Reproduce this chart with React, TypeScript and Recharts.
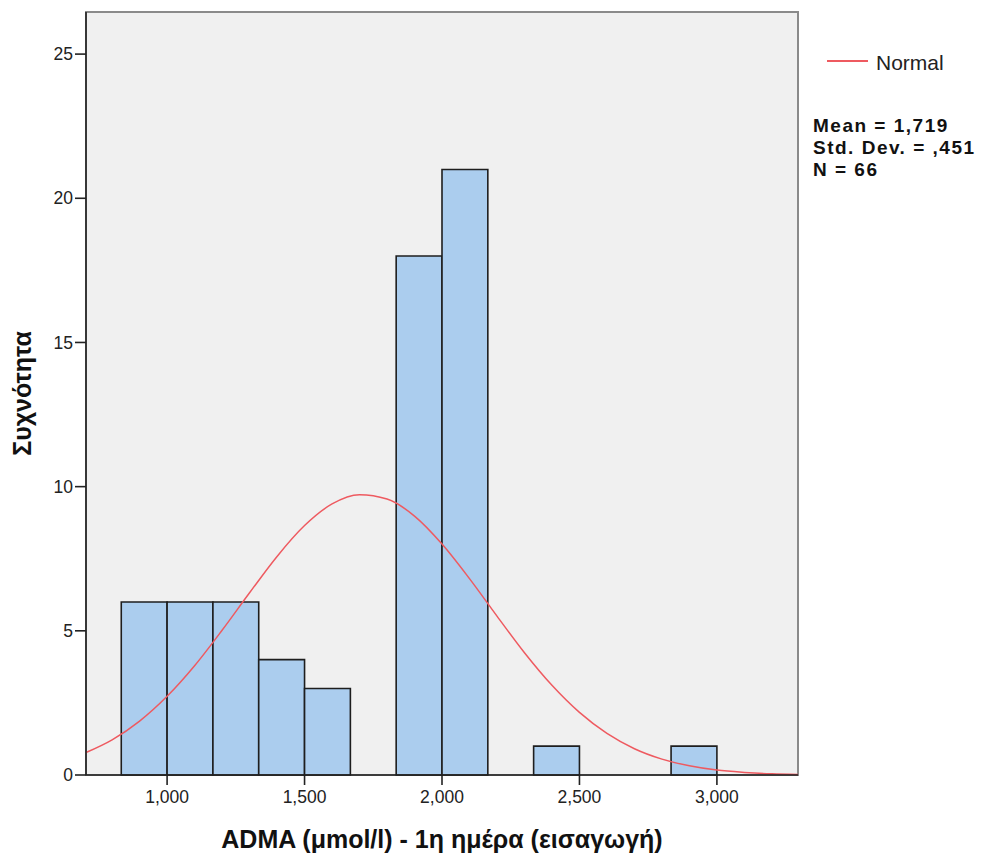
import {
  ComposedChart,
  Line,
  XAxis,
  YAxis,
  CartesianGrid,
  ReferenceArea,
  Label
} from "recharts";

// histogram bins (ADMA, µmol/l x 1000 on axis)
const binStarts = [833.3, 1000, 1166.7, 1333.3, 1500, 1666.7, 1833.3, 2000, 2166.7, 2333.3, 2500, 2666.7, 2833.3];
const binEnds = [1000, 1166.7, 1333.3, 1500, 1666.7, 1833.3, 2000, 2166.7, 2333.3, 2500, 2666.7, 2833.3, 3000];
const counts = [6, 6, 6, 4, 3, 0, 18, 21, 0, 1, 0, 0, 1];

// normal curve
const curveX = [705, 800, 900, 1000, 1100, 1200, 1300, 1400, 1500, 1600, 1700, 1800, 1900, 2000, 2100, 2200, 2300, 2400, 2500, 2600, 2700, 2800, 2900, 3000, 3100, 3200, 3295];
const curveY = [0.78, 1.22, 1.87, 2.73, 3.79, 5.02, 6.32, 7.58, 8.65, 9.4, 9.72, 9.57, 8.98, 8.01, 6.81, 5.51, 4.24, 3.11, 2.17, 1.44, 0.91, 0.55, 0.32, 0.17, 0.09, 0.04, 0.02];

const xTicks = [1000, 1500, 2000, 2500, 3000];
const yTicks = [0, 5, 10, 15, 20, 25];
const stats = ["Mean = 1,719", "Std. Dev. = ,451", "N = 66"];

const FONT = '"Liberation Sans", Arial, sans-serif';

export default function App() {
  const data = curveX.map((x, i) => ({ x, normal: curveY[i] }));
  const bins = binStarts
    .map((s, i) => ({ x1: s, x2: binEnds[i], n: counts[i] }))
    .filter((b) => b.n > 0);

  return (
    <div style={{ position: "absolute", left: 0, top: 0, width: 986, height: 858, background: "#fff", fontFamily: FONT }}>
      <ComposedChart
        width={986}
        height={858}
        data={data}
        margin={{ top: 12, right: 188, left: 0, bottom: 43 }}
      >
        <CartesianGrid fill="#f0f0f0" horizontal={false} vertical={false} />
        <ReferenceArea x1={705} x2={3295} y1={0} y2={26.46} fill="none" stroke="#8a8a8a" strokeWidth={2} />
        {bins.map((b, i) => (
          <ReferenceArea
            key={i}
            x1={b.x1}
            x2={b.x2}
            y1={0}
            y2={b.n}
            fill="#abcdee"
            fillOpacity={1}
            stroke="#1e1e1e"
            strokeWidth={1.6}
          />
        ))}
        <XAxis
          dataKey="x"
          type="number"
          domain={[705, 3295]}
          ticks={xTicks}
          tickFormatter={(v: number) => v.toLocaleString("en-US")}
          height={40}
          tickSize={10}
          tickMargin={6}
          stroke="#222"
          strokeWidth={1.6}
          tick={{ fontSize: 17.5, fill: "#222", fontFamily: FONT }}
        >
          <Label
            value="ADMA (μmol/l) - 1η ημέρα (εισαγωγή)"
            position="bottom"
            offset={15}
            style={{ fontSize: 25, fontWeight: "bold", fill: "#111", fontFamily: FONT }}
          />
        </XAxis>
        <YAxis
          type="number"
          domain={[0, 26.46]}
          ticks={yTicks}
          width={86}
          tickSize={11}
          tickMargin={2}
          stroke="#222"
          strokeWidth={1.6}
          tick={{ fontSize: 17.5, fill: "#222", fontFamily: FONT }}
        >
          <Label
            value="Συχνότητα"
            angle={-90}
            position="insideLeft"
            offset={22}
            style={{ fontSize: 25, fontWeight: "bold", fill: "#111", fontFamily: FONT, textAnchor: "middle" }}
          />
        </YAxis>
        <Line
          type="monotone"
          dataKey="normal"
          stroke="#ee5a60"
          strokeWidth={1.5}
          dot={false}
          activeDot={false}
          isAnimationActive={false}
        />
      </ComposedChart>
      <div style={{ position: "absolute", left: 827, top: 51, display: "flex", alignItems: "center", height: 24 }}>
        <span style={{ display: "inline-block", width: 41, height: 0, borderTop: "2px solid #ee5a60", marginRight: 8, marginTop: -5 }} />
        <span style={{ fontSize: 21, color: "#222" }}>Normal</span>
      </div>
      <div style={{ position: "absolute", left: 813, top: 115, fontSize: 19, letterSpacing: 1.5, fontWeight: "bold", lineHeight: "22px", color: "#111", whiteSpace: "nowrap" }}>
        {stats.map((s) => (
          <div key={s}>{s}</div>
        ))}
      </div>
    </div>
  );
}
